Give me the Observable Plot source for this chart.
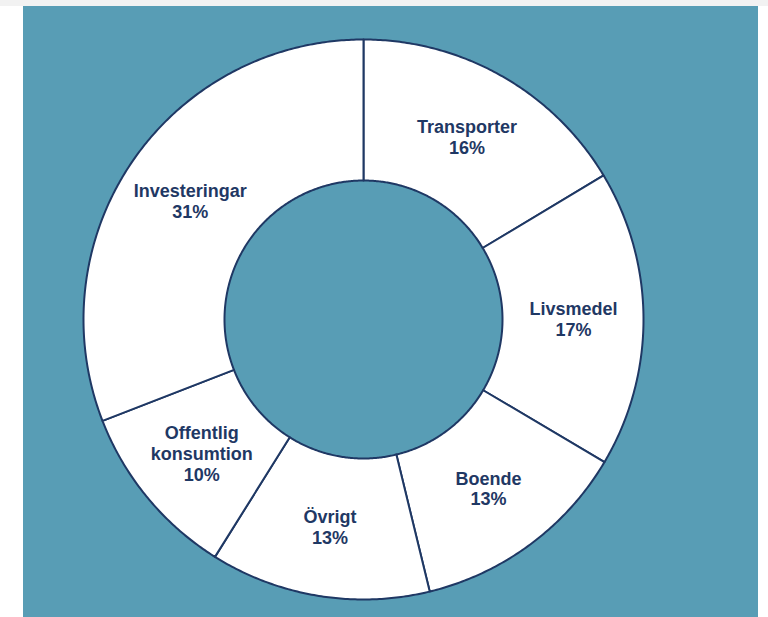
<!DOCTYPE html>
<html><head><meta charset="utf-8">
<script src="https://cdn.jsdelivr.net/npm/d3@7"></script>
<script src="https://cdn.jsdelivr.net/npm/@observablehq/plot@0.6"></script>
<style>
html,body{margin:0;padding:0;background:#fff;width:768px;height:617px;overflow:hidden}
#strip{position:absolute;left:0;top:0;width:768px;height:6px;background:#f2f2f2}
#chart{position:absolute;left:23px;top:6px}
</style></head>
<body><div id="strip"></div><div id="chart"></div>
<script>
const categories = ["Transporter", "Livsmedel", "Boende", "Övrigt", "Offentlig konsumtion", "Investeringar"];
const shares = [16.4, 17.1, 12.7, 12.7, 10.2, 30.9];
const shareLabels = ["16%", "17%", "13%", "13%", "10%", "31%"];

const outerR = 280, innerR = 139, labelR = 210;
const pt = (r, a) => [r * Math.sin(a), -r * Math.cos(a)];
const total = d3.sum(shares);

let cum = 0;
const features = [];
const labels = [];
categories.forEach((c, i) => {
  const a0 = cum / total * 2 * Math.PI;
  cum += shares[i];
  const a1 = cum / total * 2 * Math.PI;
  const n = Math.max(2, Math.ceil((a1 - a0) / (Math.PI / 360)));
  const ring = [];
  for (let k = 0; k <= n; k++) ring.push(pt(outerR, a0 + (a1 - a0) * k / n));
  for (let k = n; k >= 0; k--) ring.push(pt(innerR, a0 + (a1 - a0) * k / n));
  ring.push(ring[0]);
  features.push({type: "Feature", properties: {name: c}, geometry: {type: "Polygon", coordinates: [ring]}});
  const [lx, ly] = pt(labelR, (a0 + a1) / 2);
  labels.push({x: lx, y: ly, text: c + "\n" + shareLabels[i]});
});

const domain = {type: "Polygon", coordinates: [[[-outerR, -outerR], [outerR, -outerR], [outerR, outerR], [-outerR, outerR], [-outerR, -outerR]]]};

const chart = Plot.plot({
  width: 735, height: 611,
  marginLeft: 60, marginTop: 33, marginRight: 115, marginBottom: 18,
  projection: {type: "identity", domain, clip: false},
  style: {background: "#589db5", overflow: "visible"},
  marks: [
    Plot.geo(features, {fill: "#ffffff", stroke: "#1f3864", strokeWidth: 2}),
    Plot.text(labels, {x: "x", y: "y", text: "text", fill: "#1f3864", fontSize: 18, fontWeight: "bold",
      fontFamily: "Liberation Sans, Arial, sans-serif", lineHeight: 1.15, lineWidth: 7})
  ]
});
document.getElementById("chart").appendChild(chart);
</script>
</body></html>
